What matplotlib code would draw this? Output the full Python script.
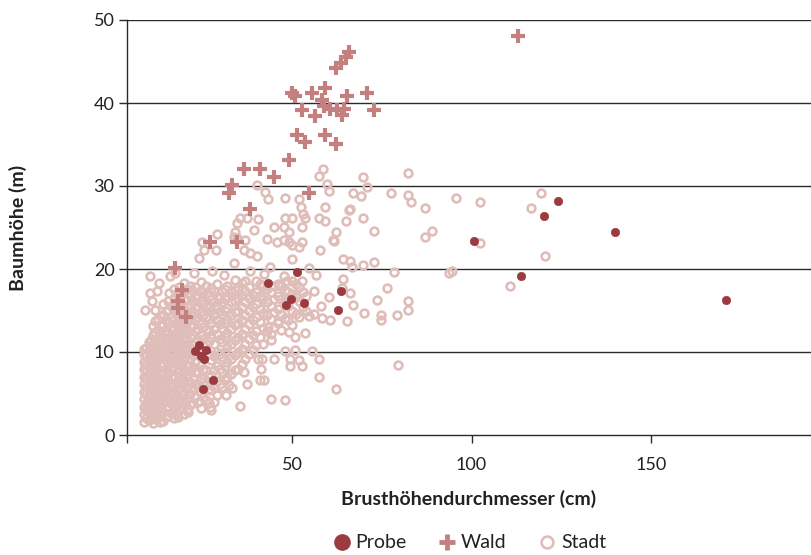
import matplotlib
matplotlib.use("Agg")
import matplotlib.pyplot as plt
from matplotlib.lines import Line2D

plt.rcParams['font.family'] = ['Lato', 'DejaVu Sans']

# ---------------- data ----------------
series_names = ["Probe", "Wald", "Stadt"]
x_label = "Brusthöhendurchmesser (cm)"
y_label = "Baumhöhe (m)"
x_ticks = [50, 100, 150]
y_ticks = [0, 10, 20, 30, 40, 50]

probe_dbh = [124.2, 120.3, 139.9, 100.8, 113.8, 170.8, 51.4, 43.2, 49.8, 48.3, 53.4,
             63.5, 62.9, 24.2, 23.0, 26.1, 24.7, 25.5, 28.1, 25.3]
probe_height = [28.2, 26.4, 24.4, 23.4, 19.2, 16.3, 19.6, 18.3, 16.4, 15.7, 15.9,
                17.4, 15.1, 10.8, 10.1, 10.2, 9.5, 9.2, 6.6, 5.5]

wald_dbh = [112.9, 66.0, 64.9, 63.5, 62.1, 50.0, 50.9, 55.6, 59.3, 58.4, 58.8, 60.7,
            62.6, 64.4, 64.0, 65.4, 71.0, 72.8, 52.8, 56.5, 51.4, 53.7, 59.3, 62.1,
            49.1, 36.5, 41.2, 45.1, 33.2, 32.3, 54.6, 38.4, 27.0, 34.6, 17.4, 19.3,
            18.3, 18.3, 20.5]
wald_height = [48.1, 46.2, 45.6, 44.8, 44.2, 41.2, 40.8, 41.2, 41.8, 40.4, 39.6, 39.3,
               39.2, 39.3, 38.6, 40.8, 41.2, 39.2, 39.2, 38.4, 36.1, 35.3, 36.1, 35.1,
               33.1, 32.1, 32.1, 31.1, 30.1, 29.2, 29.2, 27.2, 23.2, 23.2, 20.1, 17.5,
               16.1, 15.3, 14.2]

# Stadt: (diameter cm, height m) pairs
stadt_points = [
    # sparse points, right and upper part
    (95.6, 28.5), (102.3, 28.1), (119.4, 29.1), (116.6, 27.4), (102.3, 23.1), (120.4, 21.6),
    (93.7, 19.5), (94.7, 19.7), (110.8, 18.0), (69.8, 31.1), (82.2, 31.6), (71.0, 29.9),
    (67.0, 29.1), (69.1, 28.8), (77.5, 29.1), (82.3, 28.9), (83.2, 28.1), (87.0, 27.4),
    (66.1, 27.2), (65.1, 25.8), (69.8, 26.1), (72.7, 24.6), (62.3, 24.4), (61.5, 23.5),
    (87.0, 23.8), (88.9, 24.6), (64.1, 21.2), (66.1, 21.0), (69.8, 20.5), (72.7, 20.8),
    (78.4, 19.6), (64.1, 18.8), (66.1, 17.1), (76.5, 17.7), (73.7, 16.3), (82.2, 16.1),
    (74.7, 14.5), (74.7, 13.9), (79.3, 14.5), (82.3, 15.1), (79.5, 8.4),
    (60.2, 16.6), (67.0, 15.7), (65.2, 13.7), (70.0, 14.7), (54.6, 14.3), (58.4, 14.1),
    (60.5, 13.9), (53.7, 12.3), (50.9, 11.8), (49.1, 12.4), (46.0, 13.7), (44.1, 11.5),
    (43.2, 13.0), (47.0, 12.7), (47.9, 10.1), (50.9, 10.2), (55.6, 10.1), (57.4, 9.1),
    (52.8, 8.3), (51.9, 9.0), (49.5, 9.1), (49.5, 8.3), (45.1, 9.2), (40.5, 9.1),
    (41.6, 9.1), (41.3, 7.9), (41.0, 6.6), (42.1, 6.6), (57.4, 7.0), (62.3, 5.6),
    (36.5, 7.6), (37.4, 6.2), (32.3, 6.0), (33.2, 5.7), (31.7, 4.8), (44.0, 4.3),
    (47.9, 4.2), (35.6, 3.5),
    (58.6, 32.1), (57.4, 31.2), (59.6, 30.2), (60.4, 29.4), (40.2, 30.1), (42.5, 29.3),
    (43.3, 28.4), (48.1, 28.6), (51.9, 28.4), (52.6, 27.5), (53.1, 26.6), (53.7, 26.2),
    (59.3, 27.5), (57.4, 26.1), (59.3, 25.8), (65.8, 27.1), (48.1, 26.1), (50.0, 26.1),
    (47.7, 25.1), (49.1, 24.5), (52.8, 25.1), (44.9, 25.1), (39.3, 24.7), (35.6, 26.1),
    (37.4, 26.1), (40.4, 26.0), (34.6, 25.5), (34.2, 24.5), (43.0, 23.6), (45.8, 23.3),
    (47.7, 23.5), (49.1, 23.3), (50.0, 22.9), (51.9, 22.6), (52.8, 23.3), (61.6, 23.4),
    (34.6, 23.7), (37.0, 23.5), (36.5, 22.3), (38.4, 21.9), (40.2, 21.6), (50.0, 21.2),
    (66.7, 20.3), (54.6, 20.1), (56.8, 19.3), (52.8, 18.6), (48.6, 18.5), (47.7, 19.2),
    (43.9, 20.3), (42.1, 19.4), (38.4, 19.7), (37.0, 18.5), (33.7, 20.7), (30.9, 19.3),
    (34.2, 18.7), (57.9, 22.3), (64.0, 17.7),
    (33.8, 23.9), (29.0, 24.2), (28.7, 22.3), (24.9, 23.3), (25.4, 22.3), (24.0, 21.3),
    (17.5, 19.5), (16.1, 19.1), (10.5, 19.2), (12.9, 18.3), (10.5, 17.1), (15.6, 17.1),
    (12.4, 17.3), (22.6, 19.5), (27.7, 19.7),
    (9.0, 15.1), (11.8, 15.1), (10.9, 16.1), (11.8, 13.7), (18.3, 2.2), (21.1, 2.8),
    (27.2, 3.4),
    # dense cloud, small diameters
    (8.8, 1.6), (8.8, 2.5), (8.8, 3.4), (8.8, 4.3), (8.8, 5.2), (8.8, 6.1), (8.8, 7.0),
    (8.8, 7.9), (8.8, 8.8), (8.8, 9.7), (8.8, 10.4),
    (9.4, 2.0), (9.4, 3.0), (9.4, 3.9), (9.4, 4.9), (9.4, 5.8), (9.4, 6.8), (9.4, 7.7),
    (9.4, 8.6), (9.4, 9.6), (9.4, 10.5),
    (10.0, 1.8), (10.0, 2.9), (10.0, 3.9), (10.0, 4.8), (10.0, 5.8), (10.0, 6.7),
    (10.0, 7.6), (10.0, 8.5), (10.0, 9.4), (10.0, 10.3), (10.0, 11.2),
    (10.6, 2.0), (10.6, 2.9), (10.6, 3.9), (10.6, 4.9), (10.6, 5.9), (10.6, 6.8),
    (10.6, 7.8), (10.6, 8.7), (10.6, 9.6), (10.6, 10.6), (10.6, 11.5),
    (11.2, 1.5), (11.2, 2.4), (11.2, 3.3), (11.2, 4.4), (11.2, 5.4), (11.2, 6.3),
    (11.2, 7.3), (11.2, 8.2), (11.2, 9.1), (11.2, 10.0), (11.2, 11.0), (11.2, 12.0),
    (11.2, 13.1),
    (11.8, 1.9), (11.8, 2.9), (11.8, 3.8), (11.8, 4.9), (11.8, 5.8), (11.8, 6.8),
    (11.8, 7.7), (11.8, 8.6), (11.8, 9.5), (11.8, 10.5), (11.8, 11.5), (11.8, 12.4),
    (12.5, 2.0), (12.5, 3.0), (12.5, 4.0), (12.5, 5.0), (12.5, 6.0), (12.5, 7.0),
    (12.5, 8.0), (12.5, 9.0), (12.5, 10.0), (12.5, 11.5), (12.5, 12.6), (12.5, 14.0),
    (13.3, 1.6), (13.3, 2.5), (13.3, 3.5), (13.3, 4.5), (13.3, 5.5), (13.3, 6.5),
    (13.3, 7.5), (13.3, 8.5), (13.3, 9.5), (13.3, 10.5), (13.3, 11.0), (13.3, 12.0),
    (13.3, 13.2),
    (14.0, 1.7), (14.0, 2.8), (14.0, 3.8), (14.0, 4.7), (14.0, 5.7), (14.0, 6.6),
    (14.0, 7.5), (14.0, 8.6), (14.0, 9.6), (14.0, 10.6), (14.0, 11.8), (14.0, 13.2),
    (14.0, 14.5), (14.0, 15.8),
    (14.8, 2.2), (14.8, 3.2), (14.8, 4.2), (14.8, 5.2), (14.8, 6.1), (14.8, 7.0),
    (14.8, 8.0), (14.8, 9.1), (14.8, 10.1), (14.8, 11.1), (14.8, 12.2), (14.8, 13.8),
    (14.8, 14.9),
    (15.5, 2.3), (15.5, 3.5), (15.5, 4.6), (15.5, 5.6), (15.5, 6.5), (15.5, 7.4),
    (15.5, 8.5), (15.5, 9.5), (15.5, 10.5), (15.5, 11.4), (15.5, 12.3), (15.5, 13.5),
    (15.5, 15.0), (15.5, 16.2),
    (16.3, 2.7), (16.3, 3.9), (16.3, 5.0), (16.3, 6.1), (16.3, 7.0), (16.3, 8.0),
    (16.3, 8.9), (16.3, 10.0), (16.3, 11.0), (16.3, 12.0), (16.3, 13.0), (16.3, 14.2),
    (16.3, 15.6),
    (17.0, 2.0), (17.0, 3.3), (17.0, 4.5), (17.0, 5.9), (17.0, 7.1), (17.0, 8.3),
    (17.0, 9.4), (17.0, 10.6), (17.0, 11.7), (17.0, 12.8), (17.0, 13.9), (17.0, 15.2),
    (17.0, 16.5), (17.0, 17.6),
    (17.8, 2.5), (17.8, 3.6), (17.8, 4.9), (17.8, 6.3), (17.8, 7.6), (17.8, 8.8),
    (17.8, 9.9), (17.8, 11.1), (17.8, 12.2), (17.8, 13.3), (17.8, 14.6), (17.8, 15.9),
    (17.8, 17.0),
    (18.5, 3.0), (18.5, 4.2), (18.5, 5.5), (18.5, 6.8), (18.5, 8.0), (18.5, 9.2),
    (18.5, 10.4), (18.5, 11.6), (18.5, 12.9), (18.5, 14.1), (18.5, 15.4), (18.5, 16.8),
    (18.5, 17.8),
    (19.3, 3.4), (19.3, 4.8), (19.3, 6.1), (19.3, 7.4), (19.3, 8.6), (19.3, 9.8),
    (19.3, 11.0), (19.3, 12.2), (19.3, 13.4), (19.3, 14.6), (19.3, 15.8), (19.3, 17.1),
    (20.0, 2.5), (20.0, 4.0), (20.0, 5.3), (20.0, 6.6), (20.0, 7.8), (20.0, 9.0),
    (20.0, 10.2), (20.0, 11.4), (20.0, 12.6), (20.0, 13.8), (20.0, 15.0), (20.0, 16.3),
    (20.0, 17.5), (20.0, 18.3),
    (20.8, 3.0), (20.8, 4.4), (20.8, 5.8), (20.8, 7.1), (20.8, 8.4), (20.8, 9.7),
    (20.8, 11.0), (20.8, 12.3), (20.8, 13.6), (20.8, 14.9), (20.8, 16.3), (20.8, 17.6),
    (21.5, 3.6), (21.5, 5.0), (21.5, 6.4), (21.5, 7.7), (21.5, 9.1), (21.5, 10.5),
    (21.5, 11.8), (21.5, 13.1), (21.5, 14.4), (21.5, 15.7), (21.5, 17.0), (21.5, 18.0),
    (22.3, 3.9), (22.3, 5.5), (22.3, 6.9), (22.3, 8.2), (22.3, 9.6), (22.3, 10.8),
    (22.3, 12.0), (22.3, 13.3), (22.3, 14.6), (22.3, 16.0), (22.3, 17.3),
    (23.0, 4.6), (23.0, 6.2), (23.0, 7.6), (23.0, 8.8), (23.0, 11.2), (23.0, 12.5),
    (23.0, 13.9), (23.0, 15.3), (23.0, 16.6), (23.0, 17.8),
    (23.8, 4.0), (23.8, 5.8), (23.8, 7.5), (23.8, 10.0), (23.8, 11.5), (23.8, 12.8),
    (23.8, 14.2), (23.8, 15.6), (23.8, 16.9),
    (24.5, 3.2), (24.5, 5.1), (24.5, 6.9), (24.5, 8.4), (24.5, 12.0), (24.5, 13.4),
    (24.5, 14.8), (24.5, 16.1), (24.5, 17.4), (24.5, 18.4),
    (25.3, 4.6), (25.3, 6.4), (25.3, 8.0), (25.3, 11.6), (25.3, 13.0), (25.3, 14.4),
    (25.3, 15.8), (25.3, 17.2),
    (26.0, 4.2), (26.0, 6.0), (26.0, 7.8), (26.0, 11.0), (26.0, 12.8), (26.0, 14.2),
    (26.0, 15.6), (26.0, 17.0), (26.0, 18.0),
    (26.8, 3.8), (26.8, 5.5), (26.8, 7.0), (26.8, 9.8), (26.8, 11.3), (26.8, 12.5),
    (26.8, 14.0), (26.8, 15.4), (26.8, 16.8),
    (27.5, 3.0), (27.5, 5.4), (27.5, 7.2), (27.5, 9.0), (27.5, 11.8), (27.5, 13.5),
    (27.5, 15.0), (27.5, 16.4), (27.5, 17.7),
    (28.3, 4.0), (28.3, 5.8), (28.3, 7.8), (28.3, 9.5), (28.3, 11.0), (28.3, 12.8),
    (28.3, 14.4), (28.3, 16.0), (28.3, 17.3),
    (29.0, 4.8), (29.0, 6.5), (29.0, 8.3), (29.0, 10.0), (29.0, 12.2), (29.0, 13.9),
    (29.0, 15.5), (29.0, 16.8), (29.0, 18.2),
    (29.8, 6.2), (29.8, 8.0), (29.8, 9.8), (29.8, 11.6), (29.8, 13.4), (29.8, 15.0),
    (29.8, 16.5),
    (30.5, 5.8), (30.5, 7.6), (30.5, 9.4), (30.5, 11.2), (30.5, 12.9), (30.5, 14.6),
    (30.5, 16.0), (30.5, 17.3),
    (31.2, 6.6), (31.2, 8.3), (31.2, 10.0), (31.2, 11.8), (31.2, 13.5), (31.2, 15.0),
    (31.2, 16.4), (31.2, 17.6),
    (32.0, 7.0), (32.0, 8.8), (32.0, 10.6), (32.0, 12.3), (32.0, 14.0), (32.0, 15.3),
    (32.0, 16.7), (32.0, 18.0),
    (33.0, 7.4), (33.0, 9.2), (33.0, 11.0), (33.0, 12.8), (33.0, 14.4), (33.0, 16.0),
    (33.0, 17.2),
    (34.0, 7.8), (34.0, 9.6), (34.0, 11.5), (34.0, 13.2), (34.0, 14.8), (34.0, 16.2),
    (34.0, 17.5),
    (35.0, 8.0), (35.0, 10.0), (35.0, 11.8), (35.0, 13.5), (35.0, 15.0), (35.0, 16.5),
    (35.0, 17.8),
    (36.0, 8.5), (36.0, 10.4), (36.0, 12.2), (36.0, 13.8), (36.0, 15.4), (36.0, 16.9),
    (36.0, 18.3),
    (37.0, 9.2), (37.0, 11.0), (37.0, 12.8), (37.0, 14.4), (37.0, 16.0), (37.0, 17.3),
    (38.0, 9.8), (38.0, 11.6), (38.0, 13.4), (38.0, 15.0), (38.0, 16.5), (38.0, 17.8),
    (39.0, 10.2), (39.0, 12.0), (39.0, 13.8), (39.0, 15.4), (39.0, 16.9),
    (40.0, 10.8), (40.0, 12.5), (40.0, 14.2), (40.0, 15.8), (40.0, 17.2), (40.0, 18.5),
    (41.0, 11.8), (41.0, 13.6), (41.0, 15.2), (41.0, 16.8), (41.0, 18.2),
    (42.0, 11.0), (42.0, 12.9), (42.0, 14.7), (42.0, 16.4), (42.0, 17.9),
    (43.0, 12.5), (43.0, 14.4), (43.0, 16.0), (43.0, 17.6),
    (44.0, 12.2), (44.0, 14.0), (44.0, 15.6), (44.0, 17.2),
    (45.0, 13.0), (45.0, 14.8), (45.0, 16.4), (45.0, 18.0),
    (46.0, 13.5), (46.0, 15.2), (46.0, 16.8), (46.0, 18.2),
    (47.0, 14.6), (47.0, 16.4), (47.0, 17.9),
    (48.0, 14.1), (48.0, 16.0), (48.0, 17.5),
    (49.0, 13.8), (49.0, 15.5), (49.0, 17.2),
    (50.0, 13.3), (50.0, 15.0), (50.0, 17.0), (50.0, 18.6),
    (51.0, 14.6), (51.0, 16.6), (51.0, 18.2),
    (52.0, 14.2), (52.0, 16.2), (52.0, 17.8),
    (53.0, 15.4), (53.0, 17.2),
    (54.0, 15.0), (54.0, 16.8),
    (56.0, 14.6), (56.0, 17.4),
    (58.0, 15.5),
]
stadt_dbh = [p[0] for p in stadt_points]
stadt_height = [p[1] for p in stadt_points]

# ---------------- styles ----------------
c_probe = "#9b3b40"
c_wald = "#c4807f"
c_stadt = "#dfbdb9"
c_grid = "#2a2a2a"

fig = plt.figure(figsize=(8.11, 5.55), dpi=100)
ax = fig.add_axes([127 / 811, 1 - 435 / 555, 1 - 127 / 811, (435 - 20) / 555])

ax.plot(stadt_dbh, stadt_height, linestyle="none", marker="o", ms=5.6,
        mfc="none", mec=c_stadt, mew=1.9, zorder=3)
ax.plot(wald_dbh, wald_height, linestyle="none", marker="+", ms=9.5,
        mec=c_wald, mew=3.0, zorder=4)
ax.plot(probe_dbh, probe_height, linestyle="none", marker="o", ms=6.0,
        mfc=c_probe, mec=c_probe, mew=0.5, zorder=5)

ax.set_xlim(4, 194.6)
ax.set_ylim(0, 50)

ax.set_xticks([4] + x_ticks)
ax.set_xticklabels([""] + [str(t) for t in x_ticks])
ax.set_yticks(y_ticks)
ax.set_yticklabels([str(t) for t in y_ticks])

for t in y_ticks[1:]:
    ax.axhline(t, color=c_grid, lw=1.0, zorder=1)

for s in ["top", "right"]:
    ax.spines[s].set_visible(False)
for s in ["left", "bottom"]:
    ax.spines[s].set_color(c_grid)
    ax.spines[s].set_linewidth(1.0)

ax.tick_params(axis="both", direction="out", length=6, width=1.0, color=c_grid,
               labelsize=13, labelcolor="#222222")
ax.tick_params(axis="x", pad=10)
ax.tick_params(axis="y", pad=3)

ax.set_xlabel(x_label, fontsize=14, fontweight="bold", color="#222222", labelpad=12)
ax.set_ylabel(y_label, fontsize=14, fontweight="bold", color="#222222", labelpad=48)

handles = [
    Line2D([], [], linestyle="none", marker="o", ms=11, mfc=c_probe, mec=c_probe),
    Line2D([], [], linestyle="none", marker="+", ms=11, mec=c_wald, mew=3.5),
    Line2D([], [], linestyle="none", marker="o", ms=8.5, mfc="none", mec=c_stadt, mew=1.9),
]
fig.legend(handles, series_names, loc="center", ncol=3, frameon=False,
           bbox_to_anchor=((127 + 811) / 2 / 811, 1 - 543 / 555),
           fontsize=14, handletextpad=0.2, columnspacing=1.6, handlelength=1.0,
           labelcolor="#222222")

fig.savefig("out.png", dpi=100)
